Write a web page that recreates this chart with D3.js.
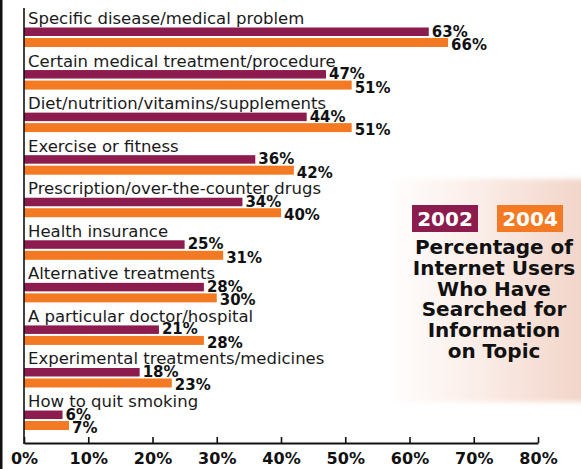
<!DOCTYPE html>
<html>
<head>
<meta charset="utf-8">
<script src="https://cdn.jsdelivr.net/npm/d3@7"></script>
<style>
  body { margin: 0; background: #fff; }
  svg { display: block; }
  .cat { font-family: "DejaVu Sans", sans-serif; font-size: 16.5px; fill: #1a1a1a; }
  .val { font-family: "DejaVu Sans", sans-serif; font-weight: bold; font-size: 15px; fill: #111; }
  .tick text { font-family: "DejaVu Sans", sans-serif; font-weight: bold; font-size: 16px; fill: #111; }
  .title { font-family: "DejaVu Sans", sans-serif; font-weight: bold; font-size: 20px; fill: #111; }
</style>
</head>
<body>
<svg id="chart" width="581" height="469"></svg>
<script>
// data
const categories = [
  "Specific disease/medical problem",
  "Certain medical treatment/procedure",
  "Diet/nutrition/vitamins/supplements",
  "Exercise or fitness",
  "Prescription/over-the-counter drugs",
  "Health insurance",
  "Alternative treatments",
  "A particular doctor/hospital",
  "Experimental treatments/medicines",
  "How to quit smoking"
];
const values2002 = [63, 47, 44, 36, 34, 25, 28, 21, 18, 6];
const values2004 = [66, 51, 51, 42, 40, 31, 30, 28, 23, 7];
const tickValues = [0, 10, 20, 30, 40, 50, 60, 70, 80];
const seriesNames = ["2002", "2004"];
const titleLines = ["Percentage of", "Internet Users", "Who Have", "Searched for", "Information", "on Topic"];

const colors = { "2002": "#8c1b4e", "2004": "#f37a22" };

var svg = d3.select('#chart');

// gradient panel behind the legend
var defs = svg.append('defs');
var grad = defs.append('linearGradient').attr('id', 'panel')
  .attr('x1', '0%').attr('x2', '100%').attr('y1', '0%').attr('y2', '0%');
grad.append('stop').attr('offset', '0%').attr('stop-color', '#ffffff');
grad.append('stop').attr('offset', '40%').attr('stop-color', '#fbefea');
grad.append('stop').attr('offset', '100%').attr('stop-color', '#f1d2c5');
defs.append('filter').attr('id', 'soft')
  .attr('x', '-10%').attr('y', '-10%').attr('width', '120%').attr('height', '120%')
  .append('feGaussianBlur').attr('stdDeviation', 2.5);

svg.append('rect')
  .attr('x', 385).attr('y', 179).attr('width', 210).attr('height', 223)
  .style('fill', 'url(#panel)')
  .attr('filter', 'url(#soft)');

// left frame edge
svg.append('rect').attr('x', 0).attr('y', 0).attr('width', 2.5).attr('height', 469).style('fill', '#111');

// scales
var x = d3.scaleLinear().domain([0, 80]).range([24, 538]);
var y = d3.scaleBand().domain(categories).range([10, 10 + 42.56 * categories.length]);

var rows = categories.map((c, i) => ({ name: c, v2002: values2002[i], v2004: values2004[i] }));

var row = svg.append('g').selectAll('g.row')
  .data(rows)
  .enter()
  .append('g')
  .attr('class', 'row')
  .attr('transform', d => 'translate(0,' + y(d.name) + ')');

row.append('text')
  .attr('class', 'cat')
  .attr('x', 28)
  .attr('y', 14)
  .text(d => d.name);

row.append('rect')
  .attr('x', x(0))
  .attr('y', 17.5)
  .attr('width', d => x(d.v2002) - x(0))
  .attr('height', 8.5)
  .style('fill', colors["2002"]);

row.append('rect')
  .attr('x', x(0))
  .attr('y', 28)
  .attr('width', d => x(d.v2004) - x(0))
  .attr('height', 9)
  .style('fill', colors["2004"]);

row.append('text')
  .attr('class', 'val')
  .attr('x', d => x(d.v2002) + 3)
  .attr('y', 26.5)
  .text(d => d.v2002 + '%');

row.append('text')
  .attr('class', 'val')
  .attr('x', d => x(d.v2004) + 3)
  .attr('y', 40)
  .text(d => d.v2004 + '%');

// axes
svg.append('line')
  .attr('x1', x(0)).attr('x2', x(0))
  .attr('y1', 8).attr('y2', 444)
  .style('stroke', '#111').style('stroke-width', 1.6);

var xAxis = d3.axisBottom(x)
  .tickValues(tickValues)
  .tickFormat(d => d + '%')
  .tickSize(-6)
  .tickPadding(10)
  .tickSizeOuter(0);

var gx = svg.append('g')
  .attr('transform', 'translate(0,443)')
  .call(xAxis);
gx.select('.domain').style('stroke', '#111').style('stroke-width', 2);
gx.selectAll('.tick line').style('stroke', '#111').style('stroke-width', 1.6);
gx.selectAll('.tick text').attr('dy', '0.71em');

// legend chips
var legend = svg.append('g').selectAll('g')
  .data(seriesNames)
  .enter()
  .append('g')
  .attr('transform', (d, i) => 'translate(' + (412 + i * 85) + ',205)');

legend.append('rect')
  .attr('width', 66).attr('height', 27)
  .style('fill', d => colors[d]);

legend.append('text')
  .attr('x', 33).attr('y', 21)
  .attr('text-anchor', 'middle')
  .style('font-family', '"DejaVu Sans", sans-serif')
  .style('font-weight', 'bold')
  .style('font-size', '20px')
  .style('fill', '#fff')
  .text(d => d);

// title block
svg.append('g').selectAll('text')
  .data(titleLines)
  .enter()
  .append('text')
  .attr('class', 'title')
  .attr('x', 494)
  .attr('y', (d, i) => 254 + i * 20.8)
  .attr('text-anchor', 'middle')
  .text(d => d);
</script>
</body>
</html>
